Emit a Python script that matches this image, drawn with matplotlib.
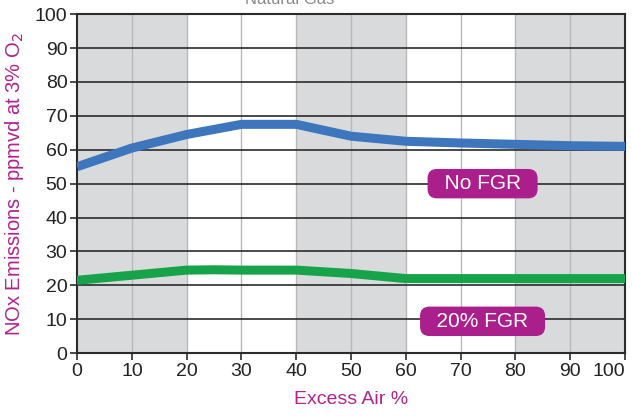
import matplotlib
matplotlib.use("Agg")
import matplotlib.pyplot as plt

excess_air = [0, 10, 20, 30, 40, 50, 60, 70, 80, 90, 100]
no_fgr = [55, 60.5, 64.5, 67.5, 67.5, 64, 62.5, 62, 61.6, 61.2, 61]
fgr_x = [0, 10, 20, 25, 30, 40, 50, 60, 70, 80, 90, 100]
fgr_20 = [21.5, 23, 24.5, 24.6, 24.5, 24.5, 23.5, 22, 22, 22, 22, 22]
grey_bands = [(0, 20), (40, 60), (80, 100)]
y_ticks = list(range(0, 101, 10))
x_ticks = list(range(0, 101, 10))

magenta = '#b0238e'
plt.rcParams['font.family'] = ['Liberation Sans', 'DejaVu Sans']

fig = plt.figure(figsize=(6.32, 4.16), dpi=100)
ax = fig.add_axes([0.122, 0.151, 0.867, 0.815])

for a, b in grey_bands:
    ax.axvspan(a, b, color='#d9dadc', zorder=0, lw=0)
for x in x_ticks[1:-1]:
    ax.axvline(x, color='#b8b8bb', lw=1, zorder=1)
for y in y_ticks[1:]:
    ax.axhline(y, color='#2b2b2b', lw=1.2, zorder=1)

ax.plot(excess_air, no_fgr, color='#3e76be', lw=6.5, solid_capstyle='butt', zorder=3)
ax.plot(fgr_x, fgr_20, color='#17a34a', lw=6.5, solid_capstyle='round', zorder=3)

box = dict(boxstyle='round,pad=0.25,rounding_size=0.45', fc='#ab1f8c', ec='none')
ax.text(74, 50, '  No FGR  ', color='white', fontsize=15, ha='center', va='center',
        bbox=box, zorder=4)
ax.text(74, 9.4, '  20% FGR  ', color='white', fontsize=15, ha='center', va='center',
        bbox=box, zorder=4)

ax.set_xlim(0, 100)
ax.set_ylim(0, 100)
ax.set_xticks(x_ticks)
ax.set_yticks(y_ticks)
ax.tick_params(labelsize=14, length=5, width=1.2, color='#2b2b2b', labelcolor='#222222', pad=2)
ax.get_xticklabels()[-1].set_horizontalalignment('right')
for s in ax.spines.values():
    s.set_color('#2b2b2b')
    s.set_linewidth(1.5)

ax.set_xlabel('Excess Air %', color=magenta, fontsize=14, labelpad=8)
ax.set_ylabel('NOx Emissions - ppmvd at 3% O$_2$', color=magenta, fontsize=14.5, labelpad=6)
fig.text(290 / 632, 1.0, 'Natural Gas', color='#888888', fontsize=12, ha='center', va='center')

fig.savefig('out.png', dpi=100)
